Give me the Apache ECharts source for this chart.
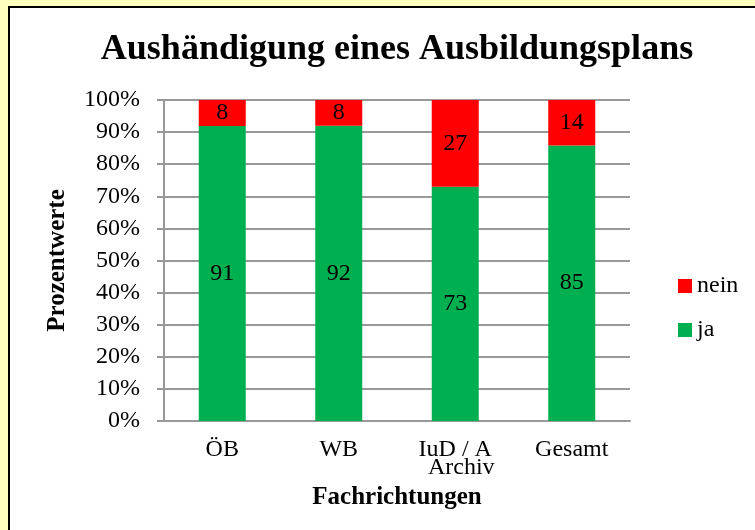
<!DOCTYPE html>
<html>
<head>
<meta charset="utf-8">
<script src="https://cdn.jsdelivr.net/npm/echarts@6/dist/echarts.min.js"></script>
<style>
  html, body { margin: 0; padding: 0; }
  body { width: 755px; height: 530px; background: #ffffc0; position: relative; overflow: hidden; }
  #frame { position: absolute; left: 8px; top: 6px; width: 760px; height: 540px; background: #fff;
           border-left: 2px solid #000; border-top: 2px solid #000; }
  #chart { position: absolute; left: 0; top: 0; width: 755px; height: 530px; }
</style>
</head>
<body>
<div id="frame"></div>
<div id="chart"></div>
<script>
const categories = ['ÖB', 'WB', 'IuD / A\n  Archiv', 'Gesamt']
const ja = [91, 92, 73, 85]
const nein = [8, 8, 27, 14]
const yTicks = [0, 10, 20, 30, 40, 50, 60, 70, 80, 90, 100]

// 100%-gestapelt: Anteile aus den Werten berechnen, Beschriftung zeigt Rohwerte
const share = (arr, i) => arr[i] / (ja[i] + nein[i]) * 100
const jaPct = ja.map((v, i) => ({ value: share(ja, i), raw: v }))
const neinPct = nein.map((v, i) => ({ value: share(nein, i), raw: v }))

const serif = 'Liberation Serif, Times New Roman, serif'
let myChart = echarts.init(document.getElementById('chart'))
let option = {
  backgroundColor: 'transparent',
  textStyle: { fontFamily: serif },
  title: {
    text: 'Aushändigung eines Ausbildungsplans',
    left: 392,
    textAlign: 'center',
    top: 27,
    textStyle: { fontFamily: serif, fontSize: 36, fontWeight: 'bold', color: '#000' }
  },
  legend: {
    orient: 'vertical',
    left: 673,
    top: 269,
    icon: 'rect',
    itemWidth: 14,
    itemHeight: 14,
    itemGap: 20,
    data: ['nein', 'ja'],
    textStyle: { fontFamily: serif, fontSize: 24, color: '#000' }
  },
  grid: { left: 164, right: 125, top: 100, bottom: 109 },
  xAxis: {
    type: 'category',
    data: categories,
    name: 'Fachrichtungen',
    nameLocation: 'middle',
    nameGap: 55,
    nameTextStyle: { fontFamily: serif, fontSize: 25, fontWeight: 'bold', color: '#000' },
    axisLine: { lineStyle: { color: '#999', width: 2 } },
    axisTick: { length: 7, lineStyle: { color: '#999', width: 2 } },
    axisLabel: { fontFamily: serif, fontSize: 24, color: '#000', margin: 20, lineHeight: 18 }
  },
  yAxis: {
    type: 'value',
    min: yTicks[0],
    max: yTicks[yTicks.length - 1],
    interval: 10,
    name: 'Prozentwerte',
    nameLocation: 'middle',
    nameGap: 94,
    nameTextStyle: { fontFamily: serif, fontSize: 25, fontWeight: 'bold', color: '#000' },
    axisLine: { show: true, lineStyle: { color: '#999', width: 2 } },
    axisTick: { show: true, length: 7, lineStyle: { color: '#999', width: 2 } },
    splitLine: { lineStyle: { color: '#999', width: 2 } },
    axisLabel: { fontFamily: serif, fontSize: 24, color: '#000', margin: 24, formatter: '{value}%' }
  },
  series: [
    {
      name: 'ja',
      type: 'bar',
      stack: 'total',
      barWidth: 47,
      itemStyle: { color: '#00b050' },
      label: {
        show: true, position: 'inside', color: '#000', fontFamily: serif, fontSize: 24,
        formatter: p => p.data.raw
      },
      data: jaPct
    },
    {
      name: 'nein',
      type: 'bar',
      stack: 'total',
      barWidth: 47,
      itemStyle: { color: '#ff0000' },
      label: {
        show: true, position: 'inside', color: '#000', fontFamily: serif, fontSize: 24,
        formatter: p => p.data.raw
      },
      data: neinPct
    }
  ]
}
option && myChart.setOption(option)
</script>
</body>
</html>
